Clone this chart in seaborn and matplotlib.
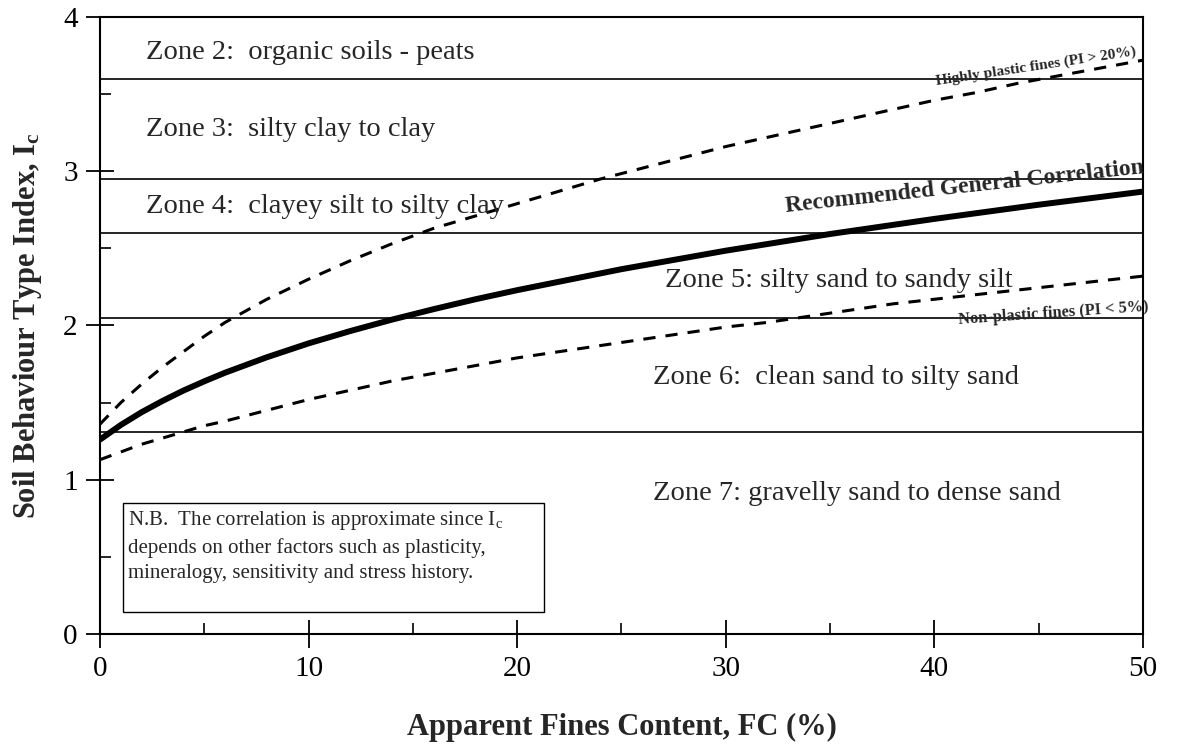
import matplotlib
matplotlib.use("Agg")
import matplotlib.pyplot as plt
import seaborn as sns
import pandas as pd
from matplotlib.patches import Rectangle

# ---------------- data ----------------
fc_rec = [0, 1, 2, 3, 4, 5, 6, 8, 10, 12, 14, 16, 18, 20, 25, 30, 35, 40, 45, 50]
ic_rec = [1.26, 1.355, 1.438, 1.511, 1.578, 1.638, 1.694, 1.794, 1.884, 1.964,
          2.038, 2.106, 2.170, 2.229, 2.365, 2.485, 2.593, 2.691, 2.783, 2.868]

fc_dash = [0, 1, 2, 3, 4, 5, 6, 8, 10, 12, 14, 16, 18, 20, 22, 24, 26, 28, 30,
           32, 34, 36, 38, 40, 42, 44, 46, 48, 50]
ic_high = [1.36, 1.50, 1.62, 1.73, 1.83, 1.93, 2.02, 2.17, 2.30, 2.42, 2.53, 2.63,
           2.71, 2.79, 2.87, 2.95, 3.02, 3.09, 3.16, 3.22, 3.28, 3.34, 3.40, 3.46,
           3.51, 3.57, 3.62, 3.67, 3.72]
ic_low = [1.13, 1.18, 1.23, 1.27, 1.31, 1.35, 1.38, 1.45, 1.52, 1.58, 1.64, 1.69,
          1.74, 1.79, 1.83, 1.87, 1.91, 1.95, 1.99, 2.02, 2.06, 2.10, 2.14, 2.17,
          2.20, 2.23, 2.26, 2.29, 2.32]

zone_bounds = [3.60, 2.95, 2.60, 2.05, 1.31]
zone_labels = ["Zone 2:  organic soils - peats",
               "Zone 3:  silty clay to clay",
               "Zone 4:  clayey silt to silty clay",
               "Zone 5: silty sand to sandy silt",
               "Zone 6:  clean sand to silty sand",
               "Zone 7: gravelly sand to dense sand"]
zone_label_x = [2.2, 2.2, 2.2, 27.1, 26.5, 26.5]
zone_label_y = [3.77, 3.27, 2.77, 2.29, 1.66, 0.91]

x_ticks = [0, 10, 20, 30, 40, 50]
y_ticks = [0, 1, 2, 3, 4]

# ---------------- style ----------------
sns.set_style("ticks")
plt.rcParams["font.family"] = ["Liberation Serif", "DejaVu Serif"]
plt.rcParams["mathtext.fontset"] = "custom"
plt.rcParams["mathtext.rm"] = "Liberation Serif"
plt.rcParams["mathtext.bf"] = "Liberation Serif:bold"

fig = plt.figure(figsize=(11.9, 7.55), dpi=100)
ax = fig.add_axes([0.084, 0.1603, 0.8765, 0.8172])

# zone boundary lines
for yb in zone_bounds:
    ax.axhline(yb, color="black", lw=1.2, zorder=1)

df_rec = pd.DataFrame({"FC": fc_rec, "Ic": ic_rec})
df_hi = pd.DataFrame({"FC": fc_dash, "Ic": ic_high})
df_lo = pd.DataFrame({"FC": fc_dash, "Ic": ic_low})

sns.lineplot(data=df_rec, x="FC", y="Ic", ax=ax, color="black", lw=4.3, zorder=3)
sns.lineplot(data=df_hi, x="FC", y="Ic", ax=ax, color="black", lw=2.2,
             zorder=3).lines[-1].set_dashes([4, 3.3])
sns.lineplot(data=df_lo, x="FC", y="Ic", ax=ax, color="black", lw=2.2,
             zorder=3).lines[-1].set_dashes([4, 3.3])

# zone labels
for lab, xx, yy in zip(zone_labels, zone_label_x, zone_label_y):
    ax.text(xx, yy, lab, fontsize=20.5, ha="left", va="center", zorder=4)

# curve labels (bold, rotated along the curves)
lab_kw = dict(family="Liberation Serif", fontweight="bold", ha="center",
              va="baseline", rotation_mode="anchor", zorder=4)
ax.text(41.5, 2.86, "Recommended General Correlation", fontsize=17,
        rotation=6.2, **lab_kw)
ax.text(44.9, 3.655, "Highly plastic fines (PI > 20%)", fontsize=11.1,
        rotation=8.5, **lab_kw)
ax.text(45.7, 2.055, "Non-plastic fines (PI < 5%)", fontsize=11.8,
        rotation=4.0, **lab_kw)

# N.B. box
ax.add_patch(Rectangle((1.1, 0.14), 20.2, 0.71, fill=False, ec="black", lw=1.0,
                       zorder=4))
ax.text(1.35, 0.81,
        "N.B.  The correlation is approximate since $\\mathregular{I_c}$\n"
        "depends on other factors such as plasticity,\n"
        "mineralogy, sensitivity and stress history.",
        fontsize=15, ha="left", va="top", linespacing=1.4, zorder=4)

# axes
ax.set_xlim(0, 50)
ax.set_ylim(0, 4)
ax.set_xticks(x_ticks)
ax.set_yticks(y_ticks)
ax.set_xticks([5, 15, 25, 35, 45], minor=True)
ax.set_yticks([0.5, 1.5, 2.5, 3.5], minor=True)
ax.tick_params(axis="both", which="major", direction="inout", length=20, width=1.3,
               labelsize=21, color="black", labelcolor="black")
ax.tick_params(axis="x", which="major", pad=6)
ax.tick_params(axis="y", which="major", pad=6)
ax.tick_params(axis="both", which="minor", direction="in", length=8, width=1.2,
               color="black")
for s in ax.spines.values():
    s.set_visible(True)
    s.set_linewidth(1.5)
    s.set_color("black")

ax.set_xlabel("Apparent Fines Content, FC (%)", fontsize=22, fontweight="bold",
              labelpad=22)
ax.set_ylabel("Soil Behaviour Type Index, $\\mathregular{I_c}$", fontsize=22,
              fontweight="bold", labelpad=14)

fig.savefig("out.png", dpi=100)
